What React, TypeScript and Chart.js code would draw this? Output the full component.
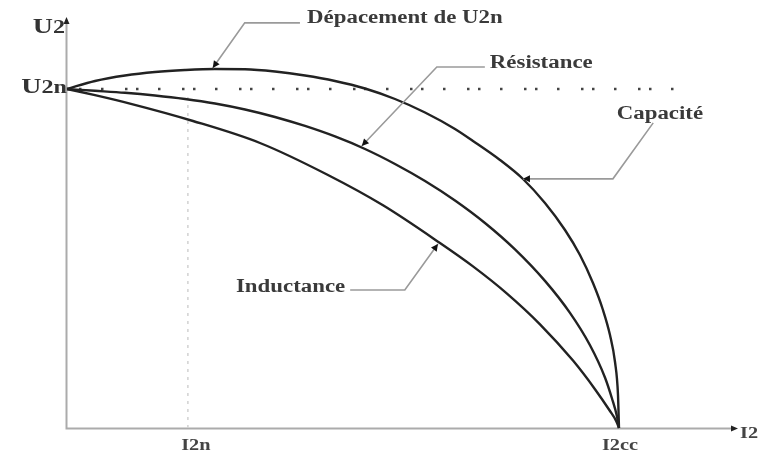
import React, { useEffect, useRef } from 'react';
import { Chart, registerables } from 'chart.js';

Chart.register(...registerables);

// ---- data (in units of I2cc and U2n) ----
const CAPACITE_X = [0, 0.0507, 0.1051, 0.1594, 0.2138, 0.2681, 0.3225, 0.3768, 0.4312, 0.4855, 0.5399, 0.5942, 0.6486, 0.7029, 0.7355, 0.7844, 0.8261, 0.8659, 0.9022, 0.9293, 0.9529, 0.971, 0.9837, 0.9928, 0.9982, 1];
const CAPACITE_Y = [1, 1.0236, 1.0398, 1.0501, 1.056, 1.059, 1.0584, 1.0516, 1.0398, 1.0236, 1.0015, 0.9705, 0.9307, 0.882, 0.8466, 0.7906, 0.7345, 0.6637, 0.5841, 0.5103, 0.4277, 0.3481, 0.2743, 0.1947, 0.0973, 0];
const RESISTANCE_X = [0, 0.0507, 0.1051, 0.1594, 0.2138, 0.2681, 0.3225, 0.3768, 0.4312, 0.4855, 0.5399, 0.5942, 0.6486, 0.7029, 0.7572, 0.8116, 0.8659, 0.9112, 0.9475, 0.9746, 0.9873, 0.9964, 1];
const RESISTANCE_Y = [1, 0.9947, 0.9888, 0.9808, 0.9705, 0.9572, 0.9395, 0.9174, 0.8909, 0.8599, 0.823, 0.7788, 0.7286, 0.6711, 0.6047, 0.5268, 0.4339, 0.3395, 0.244, 0.149, 0.087, 0.0339, 0];
const INDUCTANCE_X = [0, 0.0507, 0.1141, 0.2283, 0.3496, 0.471, 0.5725, 0.6757, 0.7355, 0.7971, 0.8569, 0.9167, 0.9565, 0.9837, 0.9946, 1];
const INDUCTANCE_Y = [1, 0.9817, 0.9569, 0.9056, 0.8407, 0.7478, 0.6569, 0.5457, 0.4767, 0.3965, 0.3059, 0.1988, 0.1145, 0.0501, 0.0218, 0];

const X_TICK_VALUES = [0.219, 1];
const X_TICK_LABELS = ['I2n', 'I2cc'];
const Y_TICK_VALUE = 1;
const Y_TICK_MAIN = 'U';
const Y_TICK_SUB = '2n';
const X_AXIS_LABEL = 'I2';
const Y_AXIS_MAIN = 'U';
const Y_AXIS_SUB = '2';
const X_MAX = 1.2156;
const Y_MAX = 1.2094;
const DOTTED_END_X = 1.132;

// callouts: text, text anchor (data), leader polyline end -> elbow -> tip (data)
const CALLOUT_TEXTS = ['Dépacement de U2n', 'Résistance', 'Capacité', 'Inductance'];
const CALLOUT_ALIGN = ['left', 'left', 'left', 'right'];
const CALLOUT_ANCHORS = [[0.435, 1.195], [0.766, 1.062], [0.996, 0.912], [0.504, 0.401]];
const CALLOUT_PATHS = [
  [[0.422, 1.195], [0.322, 1.195], [0.264, 1.062]],
  [[0.757, 1.065], [0.67, 1.065], [0.534, 0.832]],
  [[1.062, 0.9], [0.989, 0.735], [0.826, 0.735]],
  [[0.513, 0.407], [0.612, 0.407], [0.672, 0.543]],
];

const SX = 1.27; // horizontal stretch of the original picture's text
const SERIF = '"Liberation Serif", "DejaVu Serif", serif';

function drawText(ctx: CanvasRenderingContext2D, parts: [string, number][], x: number, y: number, align: string, color: string) {
  ctx.save();
  ctx.fillStyle = color;
  ctx.textBaseline = 'alphabetic';
  ctx.textAlign = 'left';
  let total = 0;
  const widths: number[] = [];
  for (const [t, s] of parts) {
    ctx.font = `bold ${s}px ${SERIF}`;
    const w = ctx.measureText(t).width * SX;
    widths.push(w);
    total += w;
  }
  let left = align === 'left' ? x : align === 'right' ? x - total : x - total / 2;
  parts.forEach(([t, s], i) => {
    ctx.save();
    ctx.font = `bold ${s}px ${SERIF}`;
    ctx.translate(left, y);
    ctx.scale(SX, 1);
    ctx.fillText(t, 0, 0);
    ctx.restore();
    left += widths[i];
  });
  ctx.restore();
}

function arrowHead(ctx: CanvasRenderingContext2D, fx: number, fy: number, tx: number, ty: number, len: number, half: number, color: string) {
  const a = Math.atan2(ty - fy, tx - fx);
  ctx.save();
  ctx.fillStyle = color;
  ctx.beginPath();
  ctx.moveTo(tx, ty);
  ctx.lineTo(tx - len * Math.cos(a) + half * Math.sin(a), ty - len * Math.sin(a) - half * Math.cos(a));
  ctx.lineTo(tx - len * Math.cos(a) - half * Math.sin(a), ty - len * Math.sin(a) + half * Math.cos(a));
  ctx.closePath();
  ctx.fill();
  ctx.restore();
}

const schemaPlugin = {
  id: 'schema',
  beforeDatasetsDraw(chart: any) {
    const { ctx, scales, chartArea } = chart;
    const xs = scales.x, ys = scales.y;
    const x0 = xs.getPixelForValue(0);
    const y0 = ys.getPixelForValue(0);
    ctx.save();
    // axes
    ctx.strokeStyle = '#ababab';
    ctx.lineWidth = 2;
    ctx.beginPath();
    ctx.moveTo(x0 - 0.5, y0 + 1);
    ctx.lineTo(x0 - 0.5, chartArea.top + 4);
    ctx.moveTo(x0 - 1.5, y0 + 0.5);
    ctx.lineTo(chartArea.right - 5, y0 + 0.5);
    ctx.stroke();
    arrowHead(ctx, x0 - 0.5, chartArea.top + 10, x0 - 0.5, chartArea.top - 1, 7, 3, '#222');
    arrowHead(ctx, chartArea.right - 10, y0 + 0.5, chartArea.right, y0 + 0.5, 7, 3, '#222');
    // I2n vertical light dotted line
    const xn = xs.getPixelForValue(X_TICK_VALUES[0]);
    ctx.strokeStyle = '#d2d2d2';
    ctx.lineWidth = 1.5;
    ctx.setLineDash([3, 5]);
    ctx.beginPath();
    ctx.moveTo(xn, ys.getPixelForValue(Y_TICK_VALUE) + 8);
    ctx.lineTo(xn, y0);
    ctx.stroke();
    // U2n dotted line
    const yn = ys.getPixelForValue(Y_TICK_VALUE);
    ctx.strokeStyle = '#444';
    ctx.lineWidth = 2.5;
    ctx.setLineDash([2.5, 8.5, 2.5, 19.5, 2.5, 21.5]);
    ctx.beginPath();
    ctx.moveTo(x0 + 1, yn);
    ctx.lineTo(xs.getPixelForValue(DOTTED_END_X), yn);
    ctx.stroke();
    ctx.restore();
  },
  afterDatasetsDraw(chart: any) {
    const { ctx, scales, chartArea } = chart;
    const xs = scales.x, ys = scales.y;
    const px = (p: number[]) => [xs.getPixelForValue(p[0]), ys.getPixelForValue(p[1])];
    // callouts
    CALLOUT_TEXTS.forEach((t, i) => {
      const pts = CALLOUT_PATHS[i].map(px);
      ctx.save();
      ctx.strokeStyle = '#9a9a9a';
      ctx.lineWidth = 1.6;
      ctx.beginPath();
      ctx.moveTo(pts[0][0], pts[0][1]);
      for (let k = 1; k < pts.length; k++) ctx.lineTo(pts[k][0], pts[k][1]);
      ctx.stroke();
      ctx.restore();
      const n = pts.length;
      arrowHead(ctx, pts[n - 2][0], pts[n - 2][1], pts[n - 1][0], pts[n - 1][1], 7, 3.5, '#111');
      const a = px(CALLOUT_ANCHORS[i]);
      drawText(ctx, [[t, 18]], a[0], a[1], CALLOUT_ALIGN[i], '#3a3a3a');
    });
    // axis labels
    const x0 = xs.getPixelForValue(0);
    const y0 = ys.getPixelForValue(0);
    drawText(ctx, [[Y_AXIS_MAIN, 22], [Y_AXIS_SUB, 19]], x0 - 2, chartArea.top + 15, 'right', '#333');
    drawText(ctx, [[Y_TICK_MAIN, 22], [Y_TICK_SUB, 19]], x0, ys.getPixelForValue(Y_TICK_VALUE) + 4, 'right', '#333');
    X_TICK_VALUES.forEach((v, i) => {
      drawText(ctx, [[X_TICK_LABELS[i], 16]], xs.getPixelForValue(v) + (i === 0 ? 8 : 1), y0 + 22, 'center', '#444');
    });
    drawText(ctx, [[X_AXIS_LABEL, 16]], chartArea.right + 2, y0 + 10, 'left', '#444');
  },
};

export default function App() {
  const ref = useRef<HTMLCanvasElement | null>(null);
  useEffect(() => {
    if (!ref.current) return;
    const mk = (xs: number[], ys: number[], label: string) => ({
      label,
      data: xs.map((x, i) => ({ x, y: ys[i] })),
      borderColor: '#222',
      borderWidth: 2.4,
      pointRadius: 0,
      fill: false,
      cubicInterpolationMode: 'monotone' as const,
      clip: false as any,
    });
    const chart = new Chart(ref.current, {
      type: 'line',
      data: {
        datasets: [
          mk(CAPACITE_X, CAPACITE_Y, 'Capacité'),
          mk(RESISTANCE_X, RESISTANCE_Y, 'Résistance'),
          mk(INDUCTANCE_X, INDUCTANCE_Y, 'Inductance'),
        ],
      },
      options: {
        responsive: false,
        animation: false,
        devicePixelRatio: 1,
        layout: { padding: { left: 67, right: 20, top: 18, bottom: 29 } },
        scales: {
          x: { type: 'linear', min: 0, max: X_MAX, display: false },
          y: { type: 'linear', min: 0, max: Y_MAX, display: false },
        },
        plugins: { legend: { display: false }, tooltip: { enabled: false } },
      },
      plugins: [schemaPlugin],
    });
    return () => chart.destroy();
  }, []);
  return (
    <canvas
      ref={ref}
      width={758}
      height={457}
      style={{ position: 'absolute', left: 0, top: 0, width: 758, height: 457, background: '#fff' }}
    />
  );
}
